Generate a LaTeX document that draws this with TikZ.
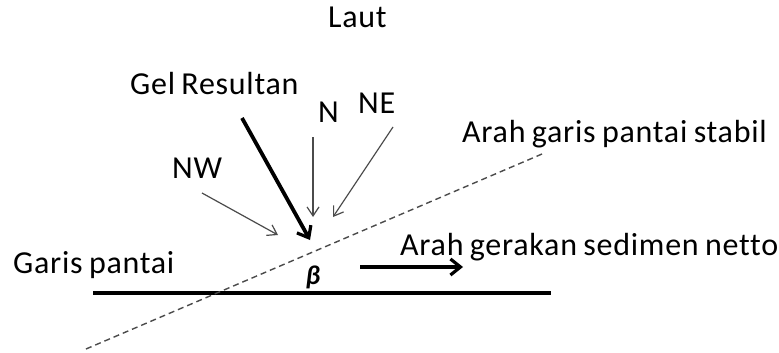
\documentclass[tikz,border=0pt]{standalone}
\usepackage{fontspec}
\setmainfont{Carlito}[LetterSpace=2.3,WordSpace=0.8,Ligatures=NoCommon]
\usetikzlibrary{arrows.meta}
\definecolor{thin}{RGB}{75,75,75}
\begin{document}
\begin{tikzpicture}[x=1pt,y=-1pt,
  lbl/.style={anchor=base west,inner sep=0pt,font=\fontsize{32}{36}\selectfont},
  thinarrow/.style={draw=thin,line width=1.2pt,-{Straight Barb[length=9pt,width=12pt,line width=1.2pt]}},
  thickarrow/.style={draw=black,line width=3.8pt,-{Straight Barb[length=10pt,width=16pt,line width=3.2pt]}},
  stable/.style={draw=thin,line width=1.4pt,dash pattern=on 6pt off 4pt},
  coast/.style={draw=black,line width=4.5pt}]
\useasboundingbox (0,0) rectangle (779,353);
% labels
\node[lbl] (laut) at (328,28) {Laut};
\node[lbl] (gel) at (130,95) {Gel Resultan};
\node[lbl] (n) at (318,122) {N};
\node[lbl] (ne) at (358,113) {NE};
\node[lbl] (nw) at (172,178) {NW};
\node[lbl] (stabil) at (462,142) {Arah garis pantai stabil};
\node[lbl] (garis) at (13,273) {Garis pantai};
\node[lbl] (sed) at (400,255) {Arah gerakan sedimen netto};
\node[anchor=center,inner sep=0pt,font=\fontsize{27}{30}\selectfont\bfseries\itshape] (beta) at (313,277) {β};
% coordinates
\coordinate (coastL) at (93,293);
\coordinate (coastR) at (551,293);
\coordinate (stabL) at (86,349);
\coordinate (stabR) at (542,154);
\coordinate (gelS) at (242,118);
\coordinate (gelE) at (310,240);
\coordinate (nS) at (313,137);
\coordinate (nE) at (313,217);
\coordinate (neS) at (393,127);
\coordinate (neE) at (333,217);
\coordinate (nwS) at (202,193);
\coordinate (nwE) at (278,235);
\coordinate (sedS) at (360,267);
\coordinate (sedE) at (463,267);
% lines
\draw[coast] (coastL) -- (coastR);
\draw[stable] (stabL) -- (stabR);
\draw[thickarrow] (gelS) -- (gelE);
\draw[thinarrow] (nS) -- (nE);
\draw[thinarrow] (neS) -- (neE);
\draw[thinarrow] (nwS) -- (nwE);
\draw[thickarrow] (sedS) -- (sedE);
\end{tikzpicture}
\end{document}
